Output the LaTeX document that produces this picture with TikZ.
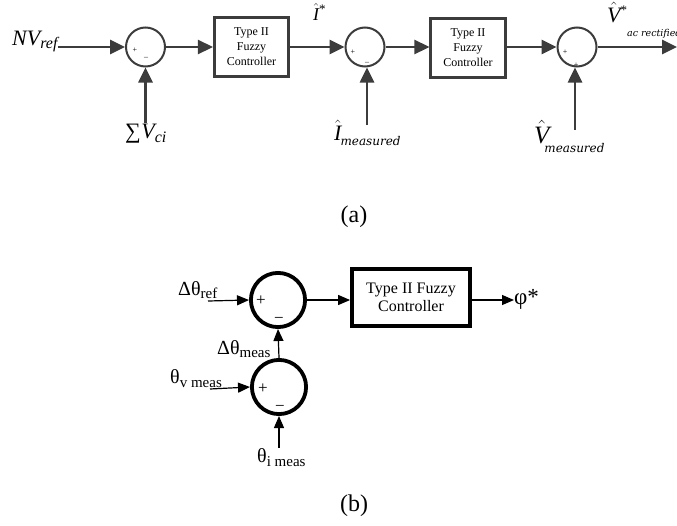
\documentclass[tikz,border=0pt]{standalone}
\usepackage{fontspec}
\setmainfont{Liberation Serif}
\newfontfamily\subfont{DejaVu Serif}
\usetikzlibrary{arrows.meta}
\definecolor{lineA}{HTML}{3C3C3C}
% italic letter with a circumflex placed over it
\newcommand\hatted[1]{$\hat{\hbox{\itshape #1}}$}
\newcommand\fs[1]{\fontsize{#1}{#1}\selectfont}
\begin{document}
\begin{tikzpicture}[x=1pt,y=-1pt,
  sumA/.style={circle,draw=lineA,line width=2pt,minimum size=39pt,inner sep=0pt},
  boxA/.style={draw=lineA,line width=2.6pt,minimum width=74.5pt,minimum height=59.5pt,
    inner sep=0pt,align=center,font=\fontsize{12}{15}\selectfont},
  arrA/.style={draw=lineA,line width=2.6pt,-{Triangle[length=15pt,width=14pt]}},
  signA/.style={inner sep=0pt,font=\fs{8}},
  sumB/.style={circle,draw,line width=3.8pt,minimum size=54.2pt,inner sep=0pt},
  boxB/.style={draw,line width=3.8pt,minimum width=118pt,minimum height=57pt,
    inner sep=0pt,align=center,font=\fontsize{16}{18}\selectfont},
  arrB/.style={line width=1.2pt,-{Triangle[length=12pt,width=10pt]}},
  signB/.style={inner sep=0pt,font=\fs{17}},
  lbl/.style={inner sep=0pt},
  captext/.style={inner sep=0pt,font=\fs{24}},
]
\useasboundingbox (0,0) rectangle (677,525);

% ---------------- (a) cascaded voltage / current loop ----------------
\node[sumA] (c1) at (145.5,47) {};
\node[boxA] (b1) at (251.5,47) {Type II\\Fuzzy\\Controller};
\node[sumA] (c2) at (365,47) {};
\node[boxA] (b2) at (468,48) {Type II\\Fuzzy\\Controller};
\node[sumA] (c3) at (577,47) {};

\node[signA] at (135,50) {+};
\node[signA] at (146,58) {–};
\node[signA] at (353,52) {+};
\node[signA] at (367,63) {–};
\node[signA] at (565,52) {+};
\node[signA] at (576,65) {+};

\node[lbl,anchor=base west] (nv) at (12,45)
  {\fs{22}\itshape NV\raisebox{-3pt}{\fs{16}ref}};
\node[lbl,anchor=base west] (sv) at (125,138)
  {\fs{22}∑\kern0.5pt{\itshape V}\raisebox{-4pt}{\fs{16}\itshape ci}};
\node[lbl,anchor=base west] (istar) at (313,20)
  {\fs{18}\hatted{I}\raisebox{7pt}{\fs{13}*}};
\node[lbl,anchor=base west] (imeas) at (334,140)
  {\fs{22}\hatted{I}\kern-1pt\raisebox{-5pt}{\subfont\itshape\fs{12}measured}};
\node[lbl,anchor=base west] (vmeas) at (534,143)
  {\fs{25}\hatted{V}\kern-5pt\raisebox{-9pt}{\subfont\itshape\fs{12}measured}};
\node[lbl,anchor=base west] (vstar) at (607,22)
  {\fs{22}\hatted{V}\raisebox{8pt}{\fs{13}*}\raisebox{-14pt}{\subfont\itshape\fs{9.5}ac rectified}};

\coordinate (i2) at (367,125);
\coordinate (v3) at (575,130);
\coordinate (out) at (677,47);

\draw[arrA] (nv.east |- c1.west) -- (c1.west);
\draw[arrA] (sv.north -| c1.south) -- (c1.south);
\draw[arrA] (c1.east) -- (b1.west |- c1.east);
\draw[arrA] (b1.east) -- (c2.west);
\draw[arrA] (i2) -- (i2 |- c2.south);
\draw[arrA] (c2.east) -- (b2.west |- c2.east);
\draw[arrA] (b2.east |- c3.west) -- (c3.west);
\draw[arrA] (v3) -- (v3 |- c3.south);
\draw[arrA] (c3.east) -- (out);

\node[captext] (capa) at (354,217) {(a)};

% ---------------- (b) phase angle loop ----------------
\node[sumB] (c4) at (278,300) {};
\node[sumB] (c5) at (279,387) {};
\node[boxB] (b3) at (411,297.5) {Type II Fuzzy\\Controller};

\node[signB] at (261,301) {+};
\node[signB] at (279,320) {−};
\node[signB] at (263,389) {+};
\node[signB] at (280,408) {−};

\node[lbl,anchor=base west] (dref) at (178,295)
  {\fs{20}Δθ\raisebox{-3pt}{\fs{15}ref}};
\node[lbl,anchor=base west] (dmeas) at (217,354)
  {\fs{20}Δθ\raisebox{-3pt}{\fs{15}meas}};
\node[lbl,anchor=base west] (tv) at (170,383)
  {\fs{20}θ\raisebox{-4pt}{\fs{15}v meas}};
\node[lbl,anchor=base west] (ti) at (257,462)
  {\fs{20}θ\raisebox{-4pt}{\fs{15}i meas}};
\node[lbl,anchor=west] (phi) at (514,299) {\fs{23}φ*};

\coordinate (refin) at (208,301);
\coordinate (vin) at (210,389);

\draw[arrB] (refin) -- (c4.west);
\draw[arrB] (c4.east) -- (b3.west |- c4.east);
\draw[arrB] (b3.east |- c4.east) -- (phi.west |- c4.east);
\draw[arrB] (c5.north) -- (c4.south);
\draw[arrB] (vin) -- (c5.west);
\draw[arrB] (ti.north -| c5.south) -- (c5.south);

\node[captext] (capb) at (354,506) {(b)};
\end{tikzpicture}
\end{document}
